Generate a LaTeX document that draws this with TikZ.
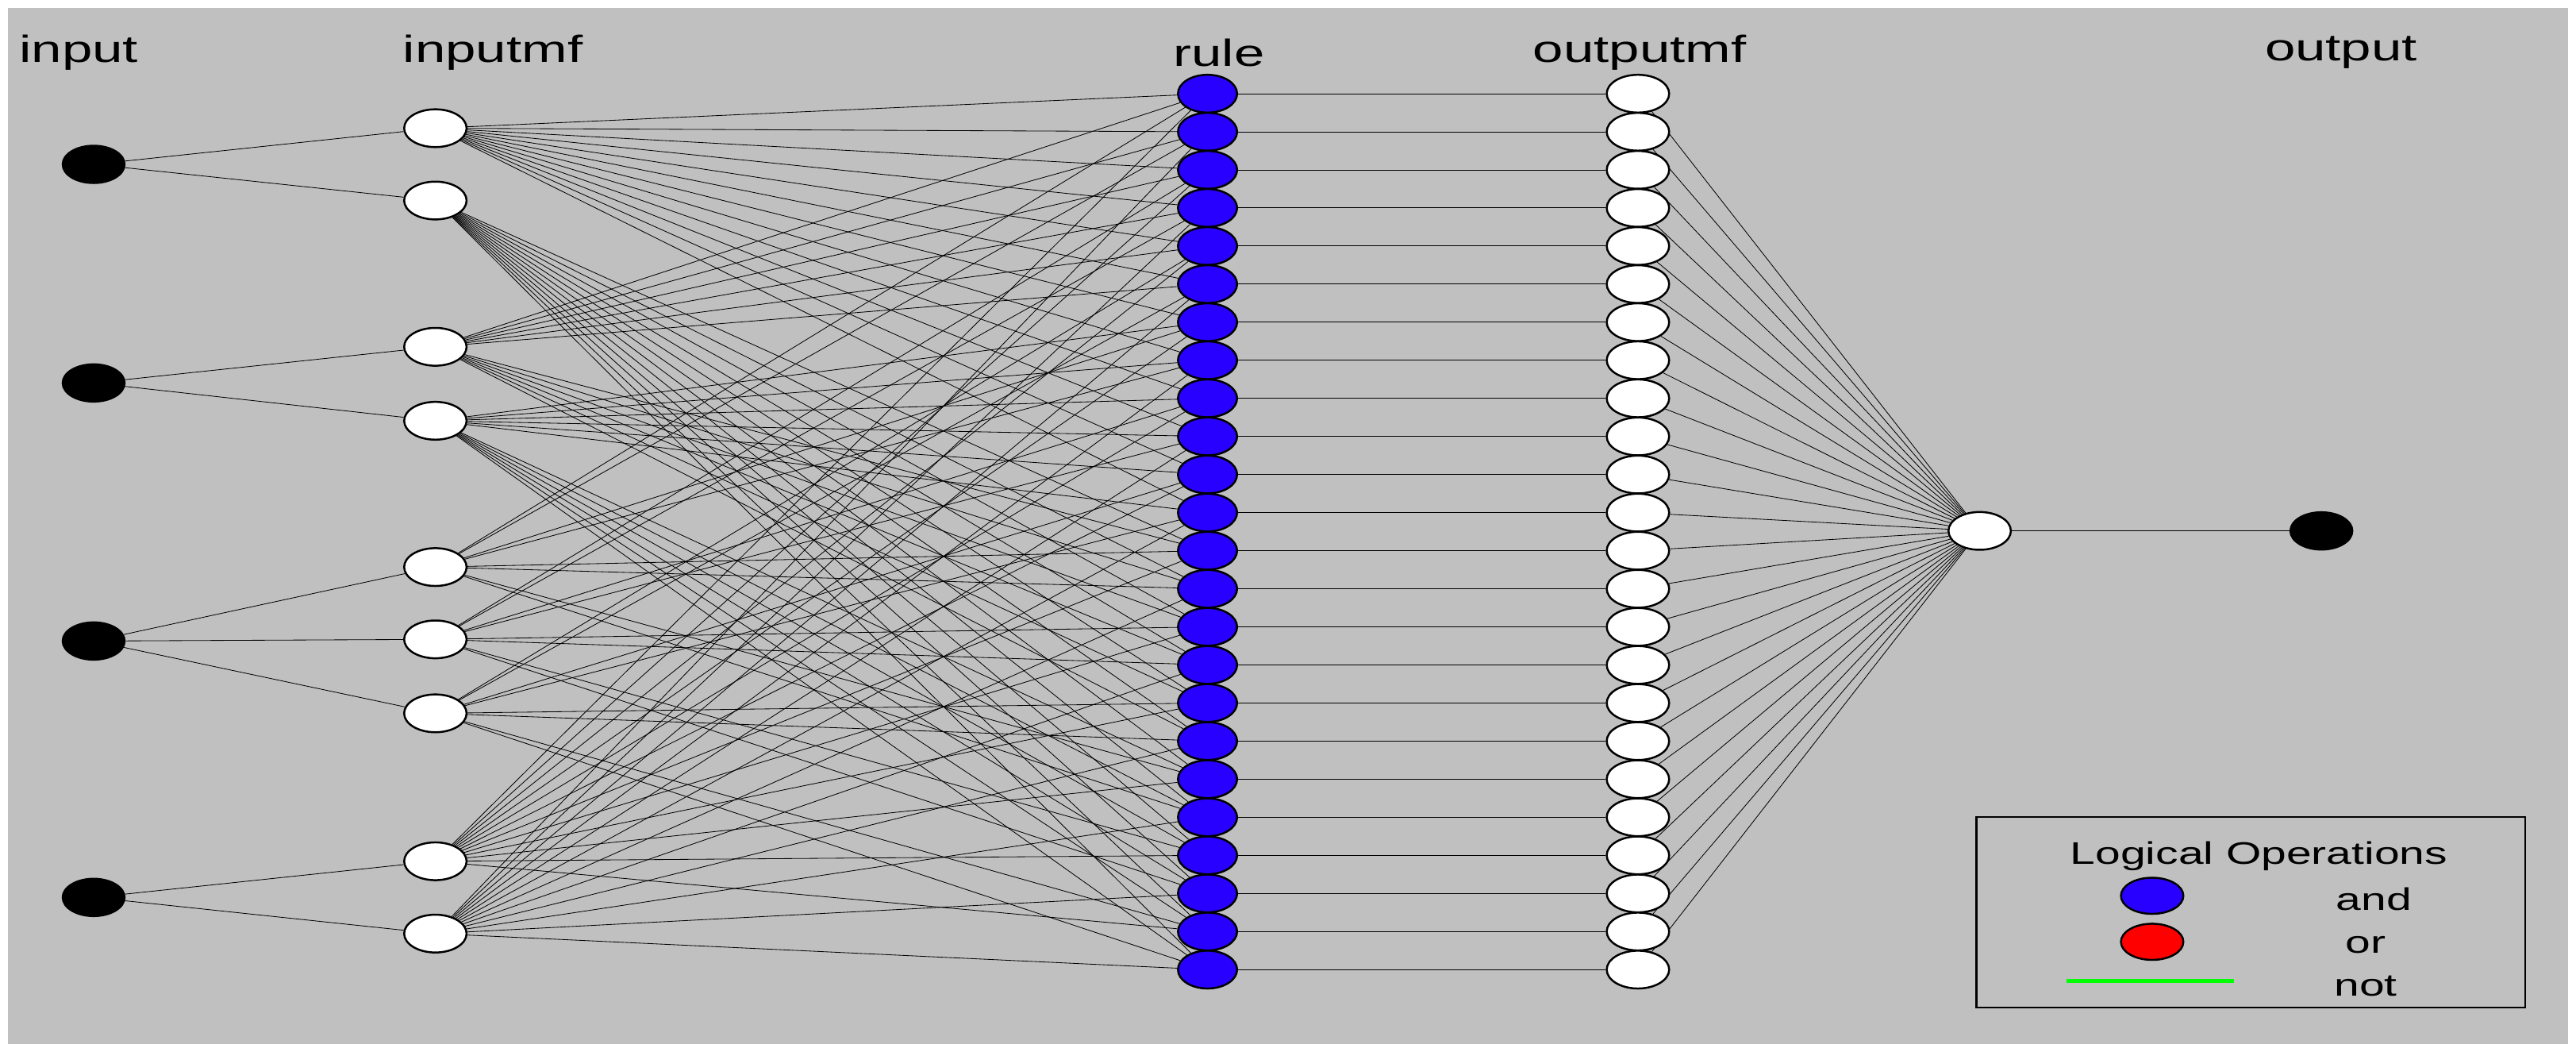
\documentclass[tikz,border=0pt]{standalone}
\usepackage{fontspec}
\setmainfont{Liberation Sans}
\newfontfamily\widesans{Liberation Sans}[FakeStretch=1.45]
\usetikzlibrary{positioning, backgrounds, calc, shapes.geometric}
\definecolor{panelgray}{RGB}{192,192,192}
\definecolor{ruleblue}{RGB}{40,0,255}

\begin{document}
\begin{tikzpicture}[x=1pt, y=-1pt, line width=0.9pt]
        \tikzstyle{inp} = [draw, ellipse, fill=black, minimum width=38pt, minimum height=23pt, inner sep=0pt];
        \tikzstyle{mf} = [draw, ellipse, fill=white, minimum width=38pt, minimum height=23pt, inner sep=0pt, line width=1.2pt];
        \tikzstyle{rl} = [draw, ellipse, fill=ruleblue, minimum width=36pt, minimum height=23pt, inner sep=0pt, line width=1.2pt];
        \tikzstyle{lbl} = [font=\widesans\fontsize{23}{26}\selectfont];
        \tikzstyle{leg} = [font=\widesans\fontsize{19}{22}\selectfont];

        \useasboundingbox (0,0) rectangle (1568,640);

        % inputs
        \node [inp] (in1) at (57,100) { };
        \node [inp] (in2) at (57,233) { };
        \node [inp] (in3) at (57,390) { };
        \node [inp] (in4) at (57,546) { };

        % input membership functions
        \node [mf] (mf1-1) at (265,78) { };
        \node [mf] (mf1-2) at (265,122) { };
        \node [mf] (mf2-1) at (265,211) { };
        \node [mf] (mf2-2) at (265,256) { };
        \node [mf] (mf3-1) at (265,345) { };
        \node [mf] (mf3-2) at (265,389) { };
        \node [mf] (mf3-3) at (265,434) { };
        \node [mf] (mf4-1) at (265,524) { };
        \node [mf] (mf4-2) at (265,568) { };

        % rules and output mfs
        \foreach \r in {1, ..., 24}{
            \node [rl] (rule\r) at (735, {57+(\r-1)*23.17}) { };
            \node [mf] (omf\r) at (997, {57+(\r-1)*23.17}) { };
        }

        \node [mf] (agg) at (1205,323) { };
        \node [inp] (out) at (1413,323) { };

        % labels
        \node [lbl] (tin) at (48,32) {input};
        \node [lbl] (tinmf) at (300,32) {inputmf};
        \node [lbl] (trule) at (742,32) {rule};
        \node [lbl] (toutmf) at (998,32) {outputmf};
        \node [lbl] (tout) at (1425,32) {output};

        % legend
        \draw [line width=1.2pt, fill=panelgray] (1203,497) rectangle (1537,613);
        \node [leg] (tlo) at (1375,521) {Logical Operations};
        \node [rl, minimum width=38pt, minimum height=22pt] (lgand) at (1310,545) { };
        \node [leg] (tand) at (1445,547) {and};
        \node [draw, ellipse, fill=red, line width=1.2pt, minimum width=38pt, minimum height=22pt, inner sep=0pt] (lgor) at (1310,573) { };
        \node [leg] (tor) at (1440,575) {or};
        \coordinate (ng1) at (1258,597);
        \coordinate (ng2) at (1360,597);
        \draw [green, line width=2.5pt] (ng1) -- (ng2);
        \node [leg] (tnot) at (1440,600) {not};

        \begin{scope}[on background layer]
            \fill [panelgray] (5,5) rectangle (1563,635);
            \draw (in1) -- (mf1-1); \draw (in1) -- (mf1-2);
            \draw (in2) -- (mf2-1); \draw (in2) -- (mf2-2);
            \foreach \k in {1, 2, 3}{
                \draw (in3) -- (mf3-\k);
            }
            \draw (in4) -- (mf4-1); \draw (in4) -- (mf4-2);

            \foreach \a in {1, 2}{
                \foreach \b in {1, 2}{
                    \foreach \c in {1, 2, 3}{
                        \foreach \d in {1, 2}{
                            \pgfmathtruncatemacro{\r}{(((\a-1)*2+(\b-1))*3+(\c-1))*2+\d}
                            \draw (mf1-\a) -- (rule\r);
                            \draw (mf2-\b) -- (rule\r);
                            \draw (mf3-\c) -- (rule\r);
                            \draw (mf4-\d) -- (rule\r);
                        }
                    }
                }
            }

            \foreach \r in {1, ..., 24}{
                \draw (rule\r) -- (omf\r);
                \draw (omf\r) -- (agg);
            }
            \draw (agg) -- (out);
        \end{scope}
    \end{tikzpicture}
\end{document}
